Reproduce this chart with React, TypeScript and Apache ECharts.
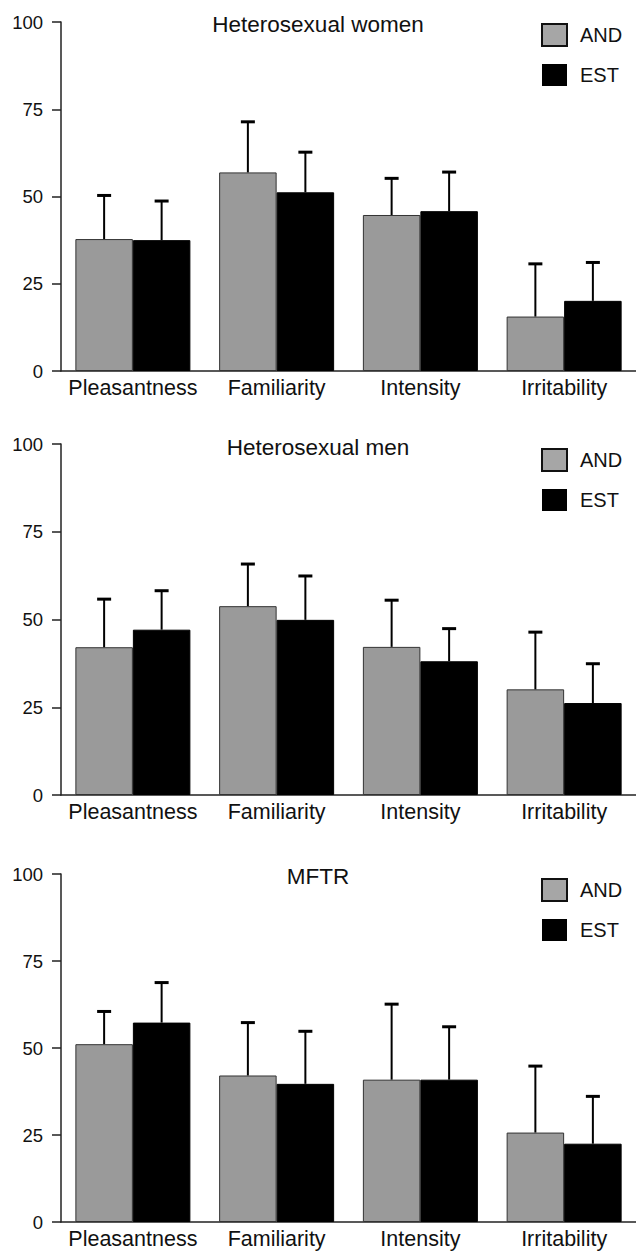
import React, { useEffect, useRef } from "react";
import * as echarts from "echarts";

const categories = ["Pleasantness", "Familiarity", "Intensity", "Irritability"];
const panelTitles = ["Heterosexual women", "Heterosexual men", "MFTR"];
const seriesNames = ["AND", "EST"];
const yTicks = [0, 25, 50, 75, 100];

const womenAND = [37.8, 56.9, 44.7, 15.6];
const womenANDErr = [12.5, 14.5, 10.5, 15.1];
const womenEST = [37.5, 51.2, 45.8, 20.1];
const womenESTErr = [11.2, 11.5, 11.2, 11.0];

const menAND = [42.1, 53.8, 42.2, 30.1];
const menANDErr = [13.7, 12.0, 13.3, 16.3];
const menEST = [47.1, 49.9, 38.1, 26.2];
const menESTErr = [11.1, 12.5, 9.3, 11.2];

const mftrAND = [51.1, 42.1, 40.9, 25.7];
const mftrANDErr = [9.4, 15.2, 21.7, 19.1];
const mftrEST = [57.3, 39.7, 40.9, 22.5];
const mftrESTErr = [11.5, 15.1, 15.2, 13.6];

const panels = [
  { and: womenAND, andErr: womenANDErr, est: womenEST, estErr: womenESTErr },
  { and: menAND, andErr: menANDErr, est: menEST, estErr: menESTErr },
  { and: mftrAND, andErr: mftrANDErr, est: mftrEST, estErr: mftrESTErr },
];

const FONT = "'Liberation Sans', Arial, Helvetica, sans-serif";
const GRID_TOPS = [22, 444, 874];
const GRID_HEIGHTS = [349, 351, 348];
const TITLE_TOPS = [13, 436, 865];
const LEGEND_TOPS = [23, 448, 878];
const GREY = "#9a9a9a";

function errorRenderer(offset: number) {
  return (params: any, api: any) => {
    const xi = api.value(0);
    const m = api.value(1);
    const e = api.value(2);
    const p0 = api.coord([xi, m]);
    const p1 = api.coord([xi, m + e]);
    const band = api.size([1, 0])[0];
    const x = p0[0] + offset * band;
    return {
      type: "group",
      children: [
        {
          type: "line",
          shape: { x1: x, y1: p0[1], x2: x, y2: p1[1] },
          style: { stroke: "#000", lineWidth: 2 },
        },
        {
          type: "line",
          shape: { x1: x - 7, y1: p1[1], x2: x + 7, y2: p1[1] },
          style: { stroke: "#000", lineWidth: 3 },
        },
      ],
    };
  };
}

export default function App() {
  const ref = useRef<HTMLDivElement>(null);
  useEffect(() => {
    if (!ref.current) return;
    const chart = echarts.init(ref.current, null, { renderer: "svg" });
    const grid: any[] = [];
    const xAxis: any[] = [];
    const yAxis: any[] = [];
    const series: any[] = [];
    const title: any[] = [];
    const legend: any[] = [];
    panels.forEach((p, i) => {
      grid.push({ left: 61, width: 580, top: GRID_TOPS[i], height: GRID_HEIGHTS[i] });
      xAxis.push({
        type: "category",
        gridIndex: i,
        data: categories,
        axisTick: { show: false },
        axisLine: { lineStyle: { color: "#222", width: 1.5 } },
        axisLabel: { color: "#111", fontSize: 21.5, fontFamily: FONT, margin: 6, interval: 0 },
      });
      yAxis.push({
        type: "value",
        gridIndex: i,
        min: yTicks[0],
        max: yTicks[yTicks.length - 1],
        interval: 25,
        splitLine: { show: false },
        axisLine: { show: true, lineStyle: { color: "#222", width: 1.5 } },
        axisTick: { show: true, length: 9, lineStyle: { color: "#222", width: 1.5 } },
        axisLabel: { color: "#111", fontSize: 18.5, fontFamily: FONT, margin: 18 },
      });
      series.push({
        type: "bar",
        name: seriesNames[0],
        xAxisIndex: i,
        yAxisIndex: i,
        data: p.and,
        barGap: "0%",
        barCategoryGap: "20%",
        itemStyle: { color: GREY, borderColor: "#333", borderWidth: 1 },
      });
      series.push({
        type: "bar",
        name: seriesNames[1],
        xAxisIndex: i,
        yAxisIndex: i,
        data: p.est,
        barGap: "0%",
        barCategoryGap: "20%",
        itemStyle: { color: "#000", borderColor: "#000", borderWidth: 1 },
      });
      series.push({
        type: "custom",
        name: seriesNames[0],
        xAxisIndex: i,
        yAxisIndex: i,
        z: 5,
        renderItem: errorRenderer(-0.2),
        data: p.and.map((v, k) => [k, v, p.andErr[k]]),
        encode: { x: 0, y: 1 },
      });
      series.push({
        type: "custom",
        name: seriesNames[1],
        xAxisIndex: i,
        yAxisIndex: i,
        z: 5,
        renderItem: errorRenderer(0.2),
        data: p.est.map((v, k) => [k, v, p.estErr[k]]),
        encode: { x: 0, y: 1 },
      });
      title.push({
        text: panelTitles[i],
        left: "center",
        top: TITLE_TOPS[i],
        padding: 0,
        textStyle: { fontSize: 22.5, fontWeight: "normal", color: "#111", fontFamily: FONT },
      });
      legend.push({
        orient: "vertical",
        left: 541,
        top: LEGEND_TOPS[i],
        padding: 0,
        itemWidth: 25,
        itemHeight: 22,
        itemGap: 17,
        icon: "rect",
        selectedMode: false,
        textStyle: { fontSize: 20, color: "#111", fontFamily: FONT, padding: [0, 0, 0, 8] },
        data: [
          { name: "AND", itemStyle: { color: "#a6a6a6", borderColor: "#111", borderWidth: 2 } },
          { name: "EST", itemStyle: { color: "#000", borderColor: "#000", borderWidth: 0 } },
        ],
      });
    });
    chart.setOption({
      animation: false,
      backgroundColor: "#fff",
      title,
      legend,
      grid,
      xAxis,
      yAxis,
      series,
    });
    return () => chart.dispose();
  }, []);
  return (
    <div
      ref={ref}
      style={{ position: "absolute", left: 0, top: 0, width: 636, height: 1251 }}
    />
  );
}
